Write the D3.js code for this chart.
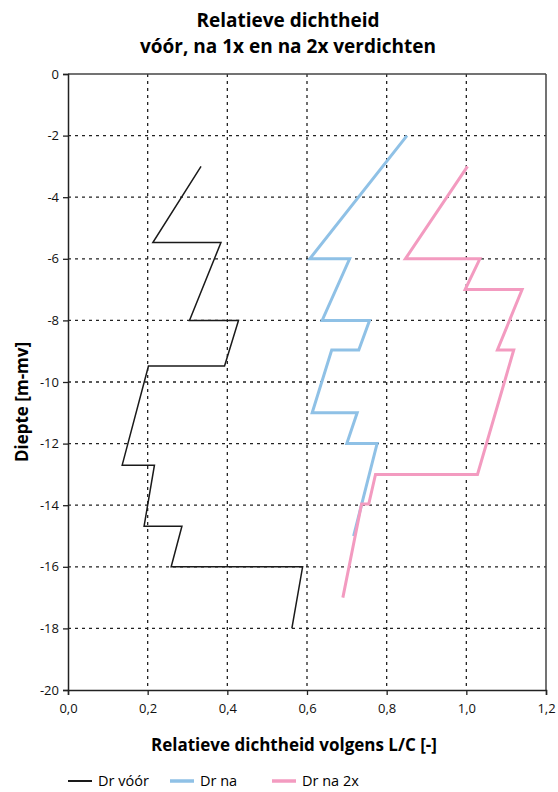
<!DOCTYPE html>
<html>
<head>
<meta charset="utf-8">
<script src="https://cdn.jsdelivr.net/npm/d3@7"></script>
<style>
  body { margin: 0; background: #fff; }
  text { font-family: "Open Sans", "DejaVu Sans", sans-serif; }
</style>
</head>
<body>
<div id="chart"></div>
<script>
// Dr vóór: [relatieve dichtheid, diepte]
const drVoor = [
  [0.334, -3.0], [0.213, -5.47], [0.384, -5.47], [0.305, -8.0], [0.428, -8.0],
  [0.393, -9.48], [0.202, -9.48], [0.136, -12.7], [0.217, -12.7], [0.191, -14.68],
  [0.286, -14.68], [0.259, -16.0], [0.589, -16.0], [0.562, -18.0]
];
// Dr na
const drNa = [
  [0.851, -2.0], [0.607, -6.0], [0.707, -6.0], [0.638, -8.0], [0.757, -8.0],
  [0.730, -8.96], [0.662, -8.96], [0.613, -11.0], [0.726, -11.0], [0.700, -12.0],
  [0.776, -12.0], [0.717, -15.0]
];
// Dr na 2x
const drNa2x = [
  [1.003, -3.0], [0.847, -6.0], [1.034, -6.0], [0.997, -7.0], [1.140, -7.0],
  [1.078, -8.96], [1.119, -8.96], [1.028, -13.0], [0.772, -13.0], [0.755, -13.96],
  [0.737, -13.96], [0.690, -17.0]
];
const xTicks = [0, 0.2, 0.4, 0.6, 0.8, 1.0, 1.2];
const yTicks = [0, -2, -4, -6, -8, -10, -12, -14, -16, -18, -20];
const series = [
  { name: "Dr vóór", data: drVoor, color: "#1a1a1a", width: 1.5 },
  { name: "Dr na", data: drNa, color: "#8fc1e6", width: 3 },
  { name: "Dr na 2x", data: drNa2x, color: "#f39bc0", width: 3 }
];

const width = 558, height = 792;
const margin = { top: 74, right: 12, bottom: 102, left: 68 };

const svg = d3.select('#chart').append('svg')
  .attr('width', width).attr('height', height);

const x = d3.scaleLinear().domain([0, 1.2]).range([margin.left, width - margin.right]);
const y = d3.scaleLinear().domain([0, -20]).range([margin.top, height - margin.bottom]);

// titel
svg.append('text').attr('x', 288).attr('y', 27).attr('text-anchor', 'middle')
  .attr('font-size', 19).attr('font-weight', 'bold').text('Relatieve dichtheid');
svg.append('text').attr('x', 288).attr('y', 53).attr('text-anchor', 'middle')
  .attr('font-size', 19).attr('font-weight', 'bold').text('vóór, na 1x en na 2x verdichten');

// rasterlijnen
svg.append('g').selectAll('line')
  .data(xTicks.slice(1, -1)).enter().append('line')
  .attr('x1', d => x(d)).attr('x2', d => x(d))
  .attr('y1', y(0)).attr('y2', y(-20))
  .attr('stroke', '#222').attr('stroke-width', 1.3).attr('stroke-dasharray', '3,4');
svg.append('g').selectAll('line')
  .data(yTicks.slice(1, -1)).enter().append('line')
  .attr('y1', d => y(d)).attr('y2', d => y(d))
  .attr('x1', x(0)).attr('x2', x(1.2))
  .attr('stroke', '#222').attr('stroke-width', 1.3).attr('stroke-dasharray', '3,4');

// kader boven en rechts
svg.append('line').attr('x1', x(0)).attr('x2', x(1.2)).attr('y1', y(0)).attr('y2', y(0))
  .attr('stroke', '#444').attr('stroke-width', 1.5);
svg.append('line').attr('x1', x(1.2)).attr('x2', x(1.2)).attr('y1', y(0)).attr('y2', y(-20))
  .attr('stroke', '#444').attr('stroke-width', 1.5);

// assen
const xAxis = svg.append('g').attr('transform', `translate(0,${y(-20)})`)
  .call(d3.axisBottom(x).tickValues(xTicks).tickSize(5).tickPadding(9)
    .tickFormat(d => d3.format('.1f')(d).replace('.', ',')));
const yAxis = svg.append('g').attr('transform', `translate(${x(0)},0)`)
  .call(d3.axisLeft(y).tickValues(yTicks).tickSize(5).tickPadding(4).tickFormat(d => d));
[xAxis, yAxis].forEach(a => {
  a.select('.domain').attr('stroke', '#222').attr('stroke-width', 1.5);
  a.selectAll('.tick line').attr('stroke', '#222').attr('stroke-width', 1.3);
  a.selectAll('.tick text').attr('font-size', 13).attr('fill', '#111')
    .attr('font-family', '"Open Sans", sans-serif');
});

// astitels
svg.append('text').attr('x', 294).attr('y', 751).attr('text-anchor', 'middle')
  .attr('font-size', 17).attr('font-weight', 'bold').text('Relatieve dichtheid volgens L/C [-]');
svg.append('text').attr('transform', 'translate(28,402) rotate(-90)')
  .attr('text-anchor', 'middle').attr('font-size', 17).attr('font-weight', 'bold')
  .text('Diepte [m-mv]');

// lijnen
const line = d3.line().x(d => x(d[0])).y(d => y(d[1]));
svg.append('g').selectAll('path')
  .data(series).enter().append('path')
  .attr('d', d => line(d.data))
  .attr('fill', 'none')
  .attr('stroke', d => d.color)
  .attr('stroke-width', d => d.width)
  .attr('stroke-linejoin', 'miter');

// legenda
const legendX = [68, 170, 272];
const legend = svg.append('g').selectAll('g')
  .data(series).enter().append('g')
  .attr('transform', (d, i) => `translate(${legendX[i]},781)`);
legend.append('line').attr('x1', 0).attr('x2', 24).attr('y1', 0).attr('y2', 0)
  .attr('stroke', d => d.color).attr('stroke-width', d => d.width === 3 ? 3.5 : 2);
legend.append('text').attr('x', 30).attr('y', 5).attr('font-size', 14.5)
  .text(d => d.name);
</script>
</body>
</html>
